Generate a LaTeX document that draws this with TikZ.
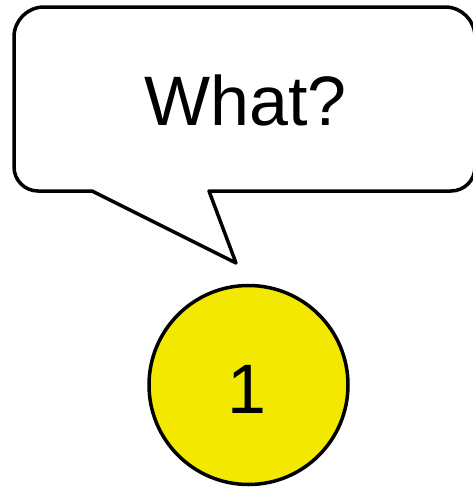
\documentclass[tikz,border=0pt]{standalone}
\usepackage{fontspec}
\setmainfont{Liberation Sans}
\definecolor{bubyellow}{HTML}{F3E900}
\tikzset{
  outline/.style={draw=black, line width=3.5pt, line join=round},
  bigtext/.style={font=\fontsize{70}{80}\selectfont, inner sep=0pt}
}
\begin{document}
\begin{tikzpicture}[x=1pt,y=-1pt]
\useasboundingbox (0,0) rectangle (473,488);
% speech bubble
\coordinate (tip) at (236,263);
\draw[outline, fill=white]
  (92,191) -- (tip) -- (209,191) -- (451,191)
  arc[start angle=90, end angle=0, radius=24] -- (475,37)
  arc[start angle=0, end angle=-90, radius=30] -- (44,7)
  arc[start angle=-90, end angle=-180, radius=30] -- (14,167)
  arc[start angle=180, end angle=90, radius=24] -- cycle;
\node[bigtext, anchor=base] (what) at (245.5,125) {What?};
% circle
\node[outline, fill=bubyellow, circle, minimum size=199pt, inner sep=0pt] (c) at (248.5,385) {};
\node[bigtext, anchor=base] (one) at (247,413) {1};
\end{tikzpicture}
\end{document}
